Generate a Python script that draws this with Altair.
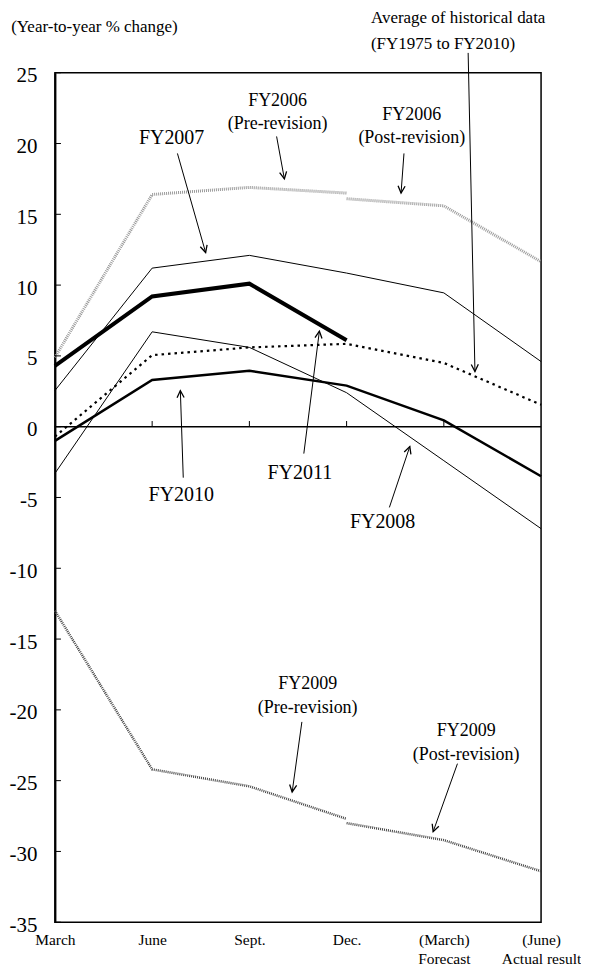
import math
import altair as alt
import pandas as pd

# ---------------- data ----------------
categories = ["March", "June", "Sept.", "Dec.", "(March)|Forecast", "(June)|Actual result"]
y_ticks = [25, 20, 15, 10, 5, 0, -5, -10, -15, -20, -25, -30, -35]

fy2006_pre = [4.9, 16.4, 16.9, 16.5]          # March .. Dec.
fy2006_post = [16.1, 15.6, 11.65]             # Dec. .. (June)
fy2007 = [2.55, 11.2, 12.1, 10.85, 9.45, 4.6]
fy2008 = [-3.3, 6.7, 5.6, 2.4, -2.4, -7.2]
fy2009_pre = [-13.0, -24.2, -25.4, -27.7]     # March .. Dec.
fy2009_post = [-28.0, -29.2, -31.4]           # Dec. .. (June)
fy2010 = [-1.0, 3.3, 3.95, 2.9, 0.45, -3.5]
fy2011 = [4.3, 9.2, 10.1, 6.1]
average = [-0.7, 5.05, 5.6, 5.85, 4.5, 1.55]

# annotation texts: (text, x, y)
big_labels = [("FY2007", 1.2, 20.4), ("FY2011", 2.52, -3.3),
              ("FY2010", 1.3, -4.86), ("FY2008", 3.37, -6.7)]
small_labels = [("FY2006", 2.29, 23.0), ("(Pre-revision)", 2.29, 21.4),
                ("FY2006", 3.67, 22.0), ("(Post-revision)", 3.67, 20.4),
                ("FY2009", 2.6, -18.2), ("(Pre-revision)", 2.6, -19.9),
                ("FY2009", 4.23, -21.5), ("(Post-revision)", 4.23, -23.2)]
left_labels = [("Average of historical data", 3.25, 28.85),
               ("(FY1975 to FY2010)", 3.25, 27.0),
               ("(Year-to-year % change)", -0.45, 28.2)]

# arrows: tail (x, y) -> head (x2, y2)
arrows = [(2.28, 20.5, 2.36, 17.5), (3.59, 19.3, 3.56, 16.5),
          (1.26, 19.3, 1.55, 12.3), (4.25, 26.4, 4.32, 3.9),
          (2.56, -1.9, 2.72, 6.75), (1.32, -3.6, 1.29, 2.55),
          (3.44, -5.7, 3.65, -1.4), (2.54, -20.85, 2.44, -25.8),
          (4.14, -23.8, 3.89, -28.6)]

# ---------------- layout ----------------
W, H = 487, 851
PX_X = W / 5.0
PX_Y = H / 60.0
FONT = "Liberation Serif"


def series(name, values, start=0):
    return pd.DataFrame({"series": name,
                         "idx": list(range(start, start + len(values))),
                         "value": values})


lines_df = pd.concat([
    series("FY2006 pre", fy2006_pre), series("FY2006 post", fy2006_post, 3),
    series("FY2007", fy2007), series("FY2008", fy2008),
    series("FY2009 pre", fy2009_pre), series("FY2009 post", fy2009_post, 3),
    series("FY2010", fy2010), series("FY2011", fy2011),
    series("Average", average),
], ignore_index=True)

label_expr = "split([" + ",".join("'" + c + "'" for c in categories) + "][datum.value], '|')"

xscale = alt.Scale(domain=[0, 5], nice=False, zero=False)
yscale = alt.Scale(domain=[-35, 25], nice=False, zero=False)
xaxis = alt.Axis(values=list(range(6)), labelExpr=label_expr, title=None, domain=False,
                 ticks=False, tickSize=0, grid=False, labelFont=FONT, labelFontSize=15.5,
                 labelColor="black", labelPadding=10, labelLineHeight=19,
                 labelBaseline="top", labelAlign="center")
yaxis = alt.Axis(values=y_ticks, labelExpr="toString(datum.value)", title=None,
                 domain=True, domainColor="black", domainWidth=2, ticks=False,
                 tickSize=0, grid=False, labelFont=FONT, labelFontSize=21,
                 labelColor="black", labelPadding=18, labelOffset=3)


def X(field):
    return alt.X(field, type="quantitative", scale=xscale, axis=xaxis)


def Y(field):
    return alt.Y(field, type="quantitative", scale=yscale, axis=yaxis)


base = alt.Chart(lines_df)

styles = {
    "FY2006 pre": dict(color="#9a9a9a", strokeWidth=3, strokeDash=[1, 1]),
    "FY2006 post": dict(color="#9a9a9a", strokeWidth=3, strokeDash=[1, 1]),
    "FY2009 pre": dict(color="#444444", strokeWidth=2.5, strokeDash=[1, 1]),
    "FY2009 post": dict(color="#444444", strokeWidth=2.5, strokeDash=[1, 1]),
    "FY2007": dict(color="black", strokeWidth=1),
    "FY2008": dict(color="black", strokeWidth=1),
    "FY2010": dict(color="black", strokeWidth=2.5),
    "FY2011": dict(color="black", strokeWidth=4),
    "Average": dict(color="black", strokeWidth=2.2, strokeDash=[2.5, 4]),
}

layers = []
for name, st in styles.items():
    layers.append(base.transform_filter(alt.datum.series == name)
                  .mark_line(**st)
                  .encode(x=X("idx"), y=Y("value")))

# zero line and ticks
zero = alt.Chart(pd.DataFrame({"v": [0]})).mark_rule(color="black", strokeWidth=1.5).encode(
    y=Y("v"))
xt = alt.Chart(pd.DataFrame({"idx": [1, 2, 3, 4]})).mark_rule(color="black", strokeWidth=1).encode(
    x=X("idx"), y=alt.datum(0), y2=alt.datum(0.4))
yt = alt.Chart(pd.DataFrame({"v": y_ticks})).mark_rule(color="black", strokeWidth=1).encode(
    y=Y("v"), x=alt.datum(0), x2=alt.datum(0.062))

# arrows
arr_df = pd.DataFrame(arrows, columns=["x", "y", "x2", "y2"])
arr_df["angle"] = [
    (math.degrees(math.atan2((r.x2 - r.x) * PX_X, (r.y2 - r.y) * PX_Y)) + 360) % 360
    for r in arr_df.itertuples()
]
arrow_lines = alt.Chart(arr_df).mark_rule(color="black", strokeWidth=1).encode(
    x=X("x"), y=Y("y"), x2="x2", y2="y2")
arrow_heads = alt.Chart(arr_df).mark_point(
    shape="M-0.5,1L0,0L0.5,1", filled=False, stroke="black", strokeWidth=1.3,
    size=200, opacity=1).encode(
    x=X("x2"), y=Y("y2"), angle=alt.Angle("angle:Q", scale=None))


def tdf(rows):
    return pd.DataFrame(rows, columns=["text", "x", "y"])


big_t = alt.Chart(tdf(big_labels)).mark_text(font=FONT, fontSize=20, color="black",
                                            align="center", baseline="middle").encode(
    x=X("x"), y=Y("y"), text="text")
small_t = alt.Chart(tdf(small_labels)).mark_text(font=FONT, fontSize=18, color="black",
                                                align="center", baseline="middle").encode(
    x=X("x"), y=Y("y"), text="text")
left_t = alt.Chart(tdf(left_labels)).mark_text(font=FONT, fontSize=17, color="black",
                                              align="left", baseline="middle").encode(
    x=X("x"), y=Y("y"), text="text")

chart = alt.layer(*layers, zero, xt, yt, arrow_lines, arrow_heads, big_t, small_t, left_t).properties(
    width=W, height=H,
    padding={"left": 47, "top": 64, "right": 40, "bottom": 43},
    autosize=alt.AutoSizeParams(type="none"),
).configure_view(stroke="black", strokeWidth=1.5).configure_axis(
    labelFont=FONT, labelColor="black")

chart.save("out.html", embed_options={"renderer": "svg", "actions": False})
